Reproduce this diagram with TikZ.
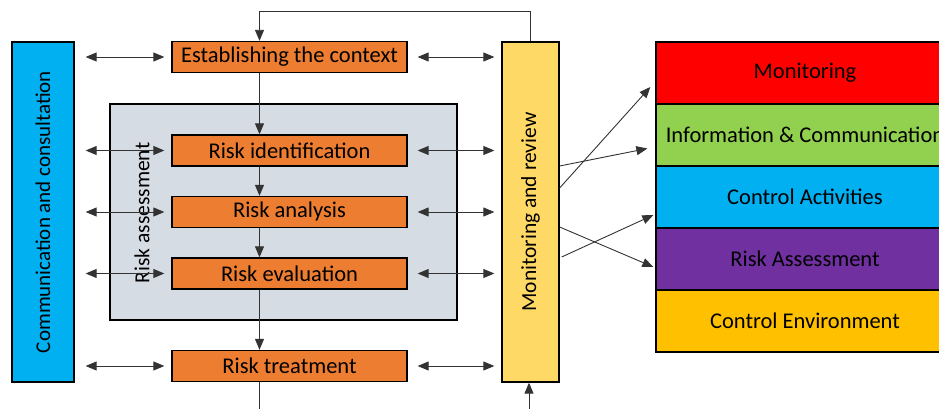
\documentclass[tikz,border=0pt]{standalone}
\usepackage{fontspec}
\setmainfont{Carlito}
\usetikzlibrary{arrows.meta}
\definecolor{orng}{HTML}{ED7D31}
\definecolor{grayfill}{HTML}{D6DCE4}
\definecolor{cblue}{HTML}{00B0F0}
\definecolor{cyell}{HTML}{FFD966}
\definecolor{cred}{HTML}{FF0000}
\definecolor{cgreen}{HTML}{92D050}
\definecolor{cpurple}{HTML}{7030A0}
\definecolor{cgold}{HTML}{FFC000}
\begin{document}
\begin{tikzpicture}[x=1pt,y=-1pt,
  box/.style={draw=black, line width=1.3pt, inner sep=0pt, font=\fontsize{22.5}{22.5}\selectfont},
  stepbox/.style={box, fill=orng, minimum width=235pt, minimum height=31pt},
  band/.style={box, minimum width=298pt, minimum height=62pt},
  vtext/.style={rotate=90, inner sep=0pt, font=\fontsize{21.5}{21.5}\selectfont},
  arr/.style={draw=black!80, line width=0.9pt, -{Triangle[length=11pt,width=9pt]}},
  biarr/.style={draw=black!80, line width=0.9pt, {Triangle[length=11pt,width=9pt]}-{Triangle[length=11pt,width=9pt]}},
  plain/.style={draw=black!80, line width=0.9pt}]
\clip (0,0) rectangle (939,409);
% backgrounds
\node[box, fill=grayfill, minimum width=347pt, minimum height=216pt] (rabox) at (283.5,212) {};
\node[vtext] (ratxt) at (142,213) {Risk assessment};
\node[box, fill=cblue, minimum width=62pt, minimum height=340pt] (comm) at (43,212) {};
\node[vtext, font=\fontsize{21}{21}\selectfont] (commtxt) at (comm.center) {Communication and consultation};
\node[box, fill=cyell, minimum width=57pt, minimum height=340pt] (mon) at (530.5,212) {};
\node[vtext] (montxt) at (mon.center) {Monitoring and review};
% process steps
\node[stepbox] (est) at (289.5,57) {Establishing the context};
\node[stepbox] (ri) at (289.5,150.5) {Risk identification};
\node[stepbox] (ra) at (289.5,212) {Risk analysis};
\node[stepbox] (re) at (289.5,273.5) {Risk evaluation};
\node[stepbox] (rt) at (289.5,366) {Risk treatment};
% COSO bands
\node[band, fill=cred] (b1) at (805,73) {Monitoring};
\node[band, fill=cgreen] (b2) at (805,135) {Information \& Communication};
\node[band, fill=cblue] (b3) at (805,197) {Control Activities};
\node[band, fill=cpurple] (b4) at (805,259) {Risk Assessment};
\node[band, fill=cgold] (b5) at (805,321) {Control Environment};
% vertical flow
\draw[arr] ([xshift=-30pt]est.south) -- ([xshift=-30pt]ri.north);
\draw[arr] ([xshift=-30pt]ri.south) -- ([xshift=-30pt]ra.north);
\draw[arr] ([xshift=-30pt]ra.south) -- ([xshift=-30pt]re.north);
\draw[arr] ([xshift=-30pt]re.south) -- ([xshift=-30pt]rt.north);
\coordinate (bot1) at (259.5,409);
\coordinate (bot2) at (529,409);
\draw[plain] ([xshift=-30pt]rt.south) -- (bot1);
\draw[arr] (bot2) -- (bot2 |- mon.south);
\draw[arr] (mon.north) -- ++(0,-30) -| ([xshift=-30pt]est.north);
% left two-way arrows
\foreach \n in {est,ri,ra,re,rt}{
  \draw[biarr] ([xshift=11pt]comm.east |- \n.west) -- ([xshift=-7pt]\n.west);
  \draw[biarr] ([xshift=10pt]\n.east) -- ([xshift=-7pt]mon.west |- \n.east);
}
% crossing arrows
\draw[arr] ([yshift=24pt]mon.east) -- ([xshift=-5pt,yshift=-14pt]b1.west);
\draw[arr] ([yshift=46pt]mon.east) -- ([xshift=-8pt,yshift=-13.5pt]b2.west);
\draw[arr] ([yshift=-15pt]mon.east) -- ([xshift=-2pt,yshift=-8pt]b4.west);
\draw[arr] ([xshift=2pt,yshift=-45pt]mon.east) -- ([xshift=-2pt,yshift=-18pt]b3.west);
\end{tikzpicture}
\end{document}
